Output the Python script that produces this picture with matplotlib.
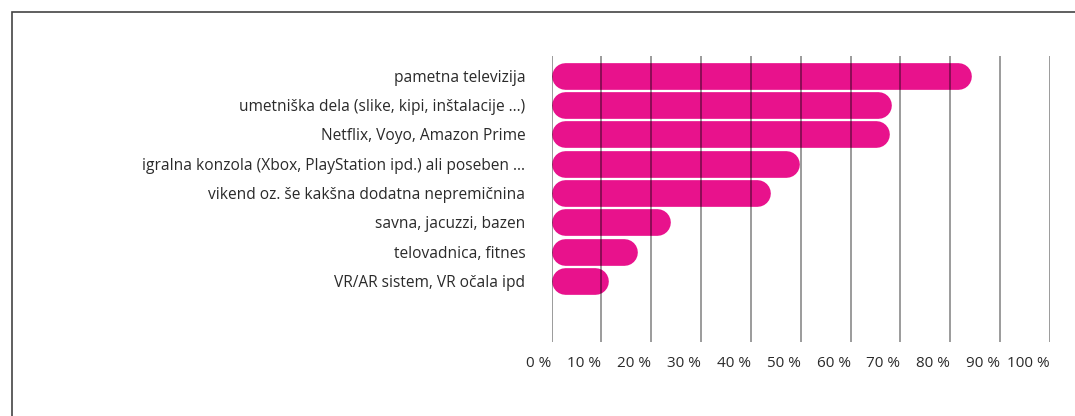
import matplotlib.pyplot as plt
from matplotlib.patches import Rectangle

plt.rcParams['font.family'] = ['Open Sans', 'DejaVu Sans']

# Data (share of respondents, %)
categories = [
    'pametna televizija',
    'umetniška dela (slike, kipi, inštalacije ...)',
    'Netflix, Voyo, Amazon Prime',
    'igralna konzola (Xbox, PlayStation ipd.) ali poseben ...',
    'vikend oz. še kakšna dodatna nepremičnina',
    'savna, jacuzzi, bazen',
    'telovadnica, fitnes',
    'VR/AR sistem, VR očala ipd',
]
values = [84.2, 68.2, 67.8, 49.7, 44.0, 23.9, 17.1, 11.3]
xticks = list(range(0, 101, 10))
xtick_labels = [f'{t} %' for t in xticks]

bar_color = '#e8128c'
DPI = 100

fig = plt.figure(figsize=(10.75, 4.16), dpi=DPI)
ax = fig.add_axes([0.5132, 0.178, 0.4633, 0.6875])

ypos = list(range(len(categories)))
ax.set_xlim(0, 100)
ax.set_ylim(len(categories) - 1 + 2.08, -0.67)

# pill-shaped bars: thick lines with round caps
bar_px = 26.7                      # bar thickness in pixels
bb = ax.get_window_extent()
r = (bar_px / 2) / (bb.width / 100.0)   # cap radius in x data units
for y, v in zip(ypos, values):
    ax.plot([r, v - r], [y, y], color=bar_color, lw=bar_px * 72 / DPI,
            solid_capstyle='round', zorder=2)

# vertical gridlines drawn over the bars
for t in xticks:
    ax.axvline(t, color='black', alpha=0.5, lw=1.1, zorder=3)

ax.set_yticks(ypos)
ax.set_yticklabels(categories, fontsize=11.2, color='#2a2a2a')
ax.set_xticks(xticks)
# x labels sit to the left of their gridline
ax.set_xticklabels(xtick_labels, fontsize=11, color='#2a2a2a', ha='right')
ax.tick_params(axis='y', length=0, pad=19)
ax.tick_params(axis='x', length=0, pad=10)
for s in ax.spines.values():
    s.set_visible(False)

# outer frame (cut off at right and bottom edges)
fig.patches.append(Rectangle((12 / 1075, -0.1), 1.2, 1 - 12 / 416 + 0.1,
                             transform=fig.transFigure, fill=False,
                             edgecolor='#444444', lw=1.2))

fig.savefig('out.png', dpi=DPI)
